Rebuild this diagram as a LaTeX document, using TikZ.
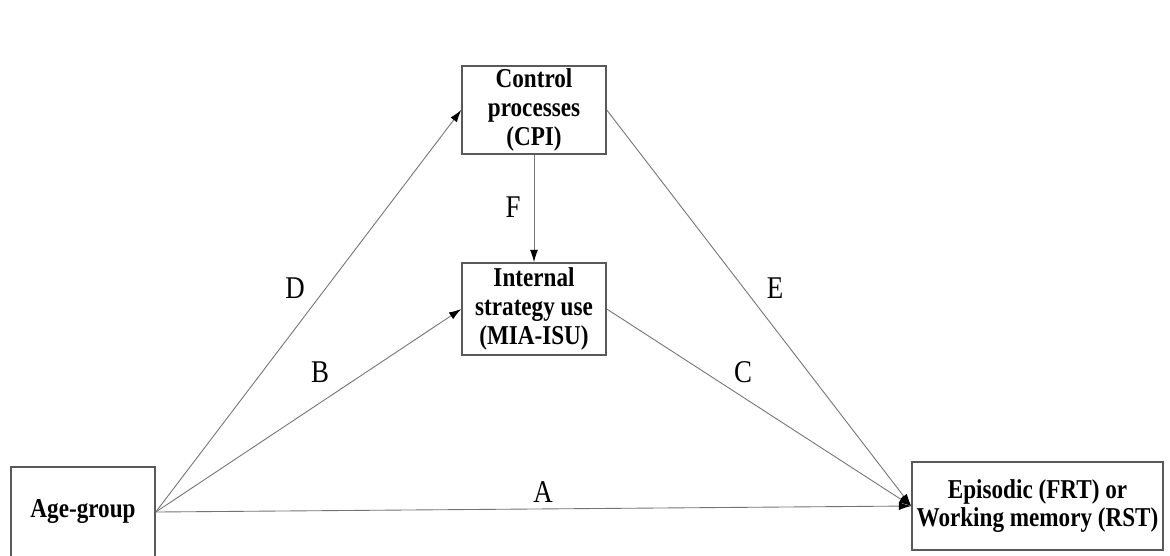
\documentclass[tikz,border=0pt]{standalone}
\usepackage{fontspec}
\setmainfont[FakeStretch=0.85]{Liberation Serif}
\usepackage{tikz}
\usetikzlibrary{arrows.meta}
\usetikzlibrary{positioning}
\tikzstyle{block} = [rectangle, draw=black!65, line width=0.9pt, fill=white, align=center, font=\fontsize{15.5}{16.3}\selectfont\bfseries, inner sep=0pt]
\tikzstyle{arrow} = [draw=black!55, line width=0.5pt, -{Latex[length=7pt,width=4.5pt,color=black]}]
\tikzstyle{pathlabel} = [font=\fontsize{18}{20}\selectfont]

\begin{document}
\begin{tikzpicture}[x=0.02cm, y=0.02cm]
    \useasboundingbox (0,0) rectangle (1170,-555);

    \node[block, minimum width=2.88cm, minimum height=1.8cm] (age) at (83,-512) {Age-group};
    \node[block, minimum width=2.88cm, minimum height=1.76cm] (cpi) at (534,-110) {Control\\processes\\(CPI)};
    \node[block, minimum width=2.88cm, minimum height=1.84cm] (isu) at (534,-309) {Internal\\strategy use\\(MIA-ISU)};
    \node[block, minimum width=5.02cm, minimum height=1.76cm] (epi) at (1037.5,-506) {Episodic (FRT) or\\Working memory (RST)};

    \draw [arrow] (age.east) -- (cpi.west); %% D
    \draw [arrow] (age.east) -- (isu.west); %% B
    \draw [arrow] (age.east) -- (epi.west); %% A
    \draw [arrow] (cpi.east) -- (epi.west); %% E
    \draw [arrow] (isu.east) -- (epi.west); %% C
    \draw [arrow] (cpi.south) -- (isu.north); %% F

    \node[pathlabel] (lD) at (295,-288) {D};
    \node[pathlabel] (lB) at (320,-372) {B};
    \node[pathlabel] (lE) at (775,-288) {E};
    \node[pathlabel] (lC) at (743,-372) {C};
    \node[pathlabel] (lA) at (543,-492) {A};
    \node[pathlabel] (lF) at (513,-207) {F};
\end{tikzpicture}
\end{document}
